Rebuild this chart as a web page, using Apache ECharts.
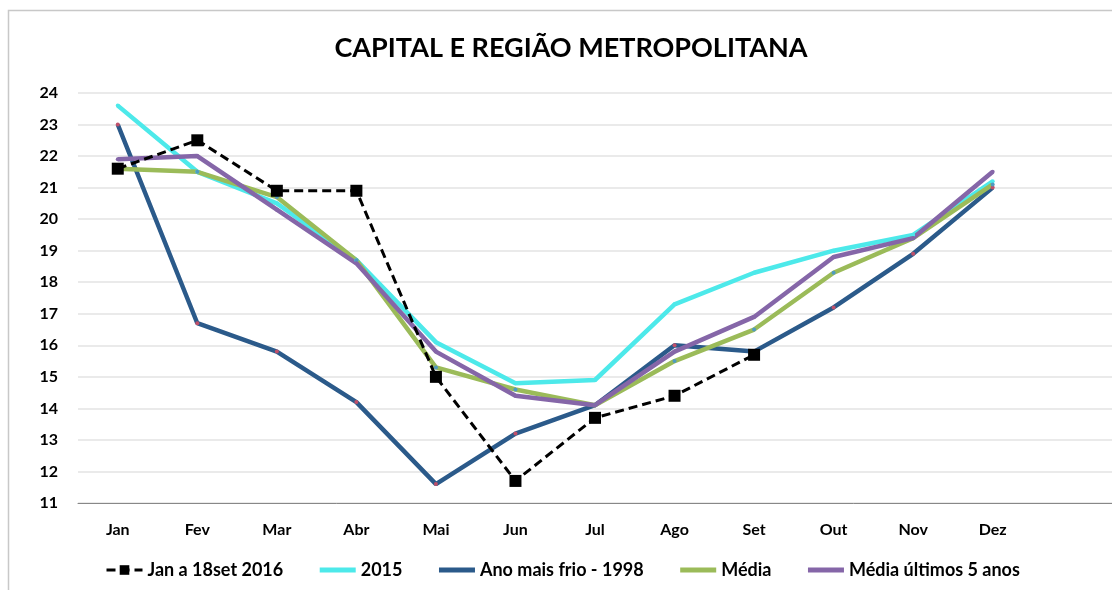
<!DOCTYPE html>
<html>
<head>
<meta charset="utf-8">
<script src="https://cdn.jsdelivr.net/npm/echarts@6/dist/echarts.min.js"></script>
<style>
  html, body { margin: 0; padding: 0; background: #fff; }
  #chart { width: 1112px; height: 590px; }
</style>
</head>
<body>
<div id="chart"></div>
<script>
// meses
var meses = ['Jan', 'Fev', 'Mar', 'Abr', 'Mai', 'Jun', 'Jul', 'Ago', 'Set', 'Out', 'Nov', 'Dez'];

// temperaturas
var ano2016 = [21.6, 22.5, 20.9, 20.9, 15.0, 11.7, 13.7, 14.4, 15.7];
var ano2015 = [23.6, 21.5, 20.5, 18.7, 16.1, 14.8, 14.9, 17.3, 18.3, 19.0, 19.5, 21.2];
var ano1998 = [23.0, 16.7, 15.8, 14.2, 11.6, 13.2, 14.1, 16.0, 15.8, 17.2, 18.9, 21.0];
var media = [21.6, 21.5, 20.7, 18.7, 15.3, 14.6, 14.1, 15.5, 16.5, 18.3, 19.4, 21.1];
var media5 = [21.9, 22.0, 20.3, 18.6, 15.8, 14.4, 14.1, 15.8, 16.9, 18.8, 19.4, 21.5];

var yTicks = { min: 11, max: 24, interval: 1 };

var fonte = 'Lato, "Open Sans", sans-serif';

var chartDom = document.getElementById('chart');
var myChart = echarts.init(chartDom);

function linha(nome, dados, cor, marcador) {
    return {
        name: nome,
        type: 'line',
        data: dados,
        symbol: 'circle',
        symbolSize: 4,
        showSymbol: true,
        lineStyle: { color: cor, width: 4.5 },
        itemStyle: { color: marcador, borderWidth: 0 },
        z: 2
    };
}

// item da legenda so com a linha grossa
function itemLegenda(nome, cor) {
    return { name: nome, itemStyle: { opacity: 0 }, lineStyle: { color: cor, width: 5 } };
}

var option = {
    animation: false,
    title: {
        text: 'CAPITAL E REGIÃO METROPOLITANA',
        left: 566,
        textAlign: 'center',
        top: 30,
        textStyle: { fontFamily: fonte, fontSize: 27, fontWeight: 'bold', color: '#000' }
    },
    graphic: [{
        type: 'rect',
        shape: { x: 8.5, y: 10.5, width: 1300, height: 800 },
        style: { fill: null, stroke: '#c8c8c8', lineWidth: 1.5 },
        silent: true
    }],
    legend: {
        top: 556,
        left: 100,
        itemGap: 34,
        itemWidth: 36,
        itemHeight: 12,
        textStyle: { fontFamily: fonte, fontSize: 18, fontWeight: 'bold', color: '#000' },
        data: [
            { name: 'Jan a 18set 2016', lineStyle: { width: 3 } },
            itemLegenda('2015', '#4de9ea'),
            itemLegenda('Ano mais frio - 1998', '#2b5a8a'),
            itemLegenda('Média', '#9bbb59'),
            itemLegenda('Média últimos 5 anos', '#8566a8')
        ]
    },
    grid: { left: 78, top: 93, width: 1044, height: 410 },
    xAxis: {
        type: 'category',
        data: meses.concat(['']),
        boundaryGap: true,
        axisLine: { lineStyle: { color: '#888', width: 1 } },
        axisTick: { show: false },
        axisLabel: { fontFamily: fonte, fontSize: 16, fontWeight: 'bold', color: '#000', margin: 19 }
    },
    yAxis: {
        type: 'value',
        min: yTicks.min,
        max: yTicks.max,
        interval: yTicks.interval,
        axisLine: { show: false },
        axisTick: { show: false },
        splitLine: { lineStyle: { color: '#e3e3e3', width: 1.5 } },
        axisLabel: { fontFamily: fonte, fontSize: 16, fontWeight: 'bold', color: '#000', margin: 20 }
    },
    series: [
        {
            name: 'Jan a 18set 2016',
            type: 'line',
            data: ano2016,
            symbol: 'rect',
            symbolSize: 12,
            lineStyle: { color: '#000', width: 3, type: [9, 5] },
            itemStyle: { color: '#000' },
            z: 5
        },
        linha('2015', ano2015, '#4de9ea', '#4de9ea'),
        linha('Ano mais frio - 1998', ano1998, '#2b5a8a', '#c0506a'),
        linha('Média', media, '#9bbb59', '#4f9bc0'),
        linha('Média últimos 5 anos', media5, '#8566a8', '#8566a8')
    ]
};

myChart.setOption(option);
</script>
</body>
</html>
